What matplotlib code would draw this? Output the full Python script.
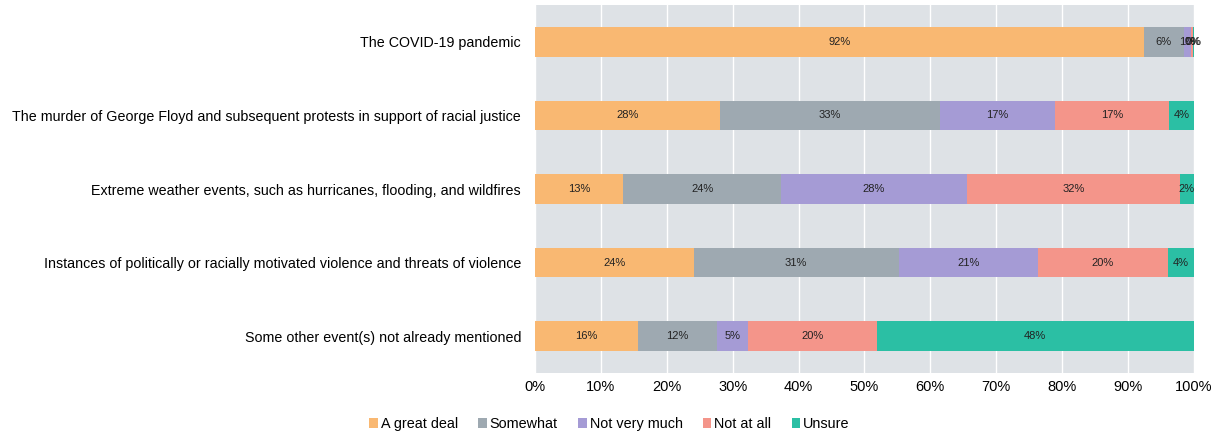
import numpy as np
import matplotlib.pyplot as plt

plt.rcParams['font.family'] = ['Liberation Sans', 'DejaVu Sans']

events = [
    "The COVID-19 pandemic",
    "The murder of George Floyd and subsequent protests in support of racial justice",
    "Extreme weather events, such as hurricanes, flooding, and wildfires",
    "Instances of politically or racially motivated violence and threats of violence",
    "Some other event(s) not already mentioned",
]
responses = ["A great deal", "Somewhat", "Not very much", "Not at all", "Unsure"]

great_deal    = [92.4, 28.1, 13.4, 24.1, 15.6]
somewhat      = [6.1, 33.4, 24.0, 31.1, 12.0]
not_very_much = [1.1, 17.4, 28.1, 21.1, 4.7]
not_at_all    = [0.3, 17.4, 32.4, 19.8, 19.6]
unsure        = [0.1, 3.7, 2.1, 3.9, 48.1]

colors = ["#F9B872", "#9EA9B1", "#A59BD5", "#F4958A", "#2BBFA4"]

series = [great_deal, somewhat, not_very_much, not_at_all, unsure]

fig, ax = plt.subplots(figsize=(12.12, 4.36), dpi=100)
fig.subplots_adjust(left=0.4414, right=0.985, top=0.988, bottom=0.145)

# stacked horizontal bars, one segment per response
y = np.arange(len(events))
left = np.zeros(len(events))
for vals, name, col in zip(series, responses, colors):
    vals = np.array(vals)
    bars = ax.barh(y, vals, left=left, height=0.4, color=col, label=name, zorder=3)
    for b, v, l in zip(bars, vals, left):
        ax.text(l + v / 2, b.get_y() + b.get_height() / 2, f"{v:.0f}%",
                ha='center', va='center', fontsize=8, color='#222222', zorder=4)
    left += vals

ax.set_facecolor('#DEE2E6')
ax.set_xlim(0, 100)
ax.set_ylim(len(events) - 0.5, -0.5)
ax.set_xticks(np.arange(0, 101, 10))
ax.set_xticklabels([f"{t}%" for t in range(0, 101, 10)], fontsize=10.5)
ax.set_yticks(y)
ax.set_yticklabels(events, fontsize=10.3)
ax.xaxis.grid(True, color='white', linewidth=1, zorder=1)
ax.set_axisbelow(True)
ax.tick_params(axis='y', length=0, pad=10)
ax.tick_params(axis='x', length=0, pad=5)
for s in ax.spines.values():
    s.set_visible(False)

ax.legend(loc='upper center', bbox_to_anchor=(0.113, -0.085), ncol=5, frameon=False,
          fontsize=10.4, handlelength=0.6, handleheight=0.6, handletextpad=0.2,
          columnspacing=1.4)

plt.savefig('out.png', dpi=100)
